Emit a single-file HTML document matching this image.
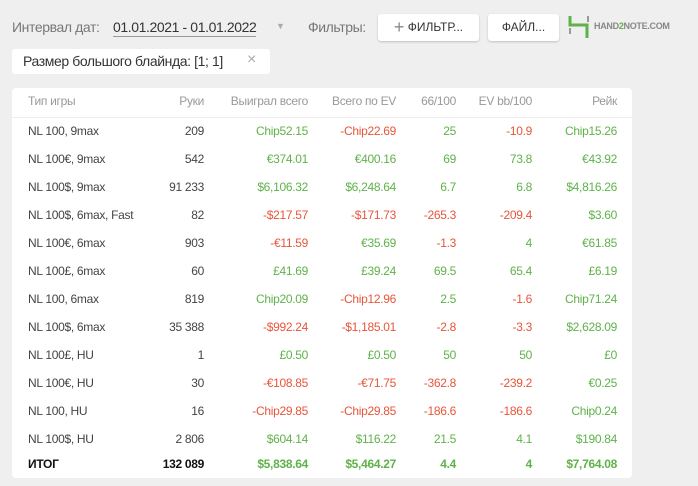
<!DOCTYPE html>
<html><head><meta charset="utf-8"><style>
body{margin:0;width:698px;height:486px;background:#efefef;font-family:"Liberation Sans",sans-serif;position:relative;overflow:hidden}
.a{position:absolute;white-space:nowrap}
.btn{position:absolute;background:#fff;border-radius:3px;box-shadow:0 1px 2px rgba(0,0,0,.2);font-size:12px;color:#333;text-align:center;line-height:27px}
.card{position:absolute;left:12px;top:88px;width:620px;height:390px;background:#fff;border-radius:4px}
.r{position:absolute;font-size:12px;letter-spacing:-0.3px;white-space:nowrap}
.g{color:#5fb24a}.d{color:#e8553a}.k{color:#444}.h{color:#999}
</style></head><body>
<div class="a" style="left:12px;top:19px;font-size:14px;color:#777;letter-spacing:-0.4px">Интервал дат:</div>
<div class="a" style="left:113px;top:19px;font-size:14px;color:#333;letter-spacing:-0.4px;border-bottom:1px solid #999;padding-bottom:1px">01.01.2021 - 01.01.2022</div>
<div class="a" style="left:276px;top:21px;font-size:9px;color:#aaa">▼</div>
<div class="a" style="left:308px;top:19px;font-size:14px;color:#777;letter-spacing:-0.4px">Фильтры:</div>
<div class="btn" style="left:378px;top:14px;width:101px;height:27px"><span style="color:#888;font-size:18px;vertical-align:-2px">+</span> ФИЛЬТР...</div>
<div class="btn" style="left:488px;top:14px;width:71px;height:27px">ФАЙЛ...</div>
<svg class="a" style="left:567px;top:14px" width="24" height="26"><path d="M3 2v9h17v13" stroke="#5fb24a" stroke-width="3" fill="none"/><path d="M3 14v6M21 2v6" stroke="#999" stroke-width="2"/></svg>
<div class="a" style="left:594px;top:21px;font-size:9px;font-weight:bold;color:#888;letter-spacing:-0.3px">HAND<span style="color:#5fb24a">2</span>NOTE.COM</div>
<div class="a" style="left:12px;top:49px;width:258px;height:25px;background:#fff;border-radius:3px"></div>
<div class="a" style="left:23px;top:53px;font-size:14px;color:#333;letter-spacing:-0.4px">Размер большого блайнда: [1; 1]</div>
<div class="a" style="left:247px;top:51px;font-size:16px;color:#aaa">×</div>
<div class="card"></div>
<div class="a" style="left:12px;top:117px;width:620px;height:1px;background:#eee"></div>
<div id="t"></div>
<script>
const rows=[["h","Тип игры","Руки","Выиграл всего","Всего по EV","66/100","EV bb/100","Рейк","hhhhhh"],
["","NL 100, 9max","209","Chip52.15","-Chip22.69","25","-10.9","Chip15.26","kgdgdg"],
["","NL 100€, 9max","542","€374.01","€400.16","69","73.8","€43.92","kggggg"],
["","NL 100$, 9max","91 233","$6,106.32","$6,248.64","6.7","6.8","$4,816.26","kggggg"],
["","NL 100$, 6max, Fast","82","-$217.57","-$171.73","-265.3","-209.4","$3.60","kddddg"],
["","NL 100€, 6max","903","-€11.59","€35.69","-1.3","4","€61.85","kdgdgg"],
["","NL 100£, 6max","60","£41.69","£39.24","69.5","65.4","£6.19","kggggg"],
["","NL 100, 6max","819","Chip20.09","-Chip12.96","2.5","-1.6","Chip71.24","kgdgdg"],
["","NL 100$, 6max","35 388","-$992.24","-$1,185.01","-2.8","-3.3","$2,628.09","kddddg"],
["","NL 100£, HU","1","£0.50","£0.50","50","50","£0","kggggg"],
["","NL 100€, HU","30","-€108.85","-€71.75","-362.8","-239.2","€0.25","kddddg"],
["","NL 100, HU","16","-Chip29.85","-Chip29.85","-186.6","-186.6","Chip0.24","kddddg"],
["","NL 100$, HU","2 806","$604.14","$116.22","21.5","4.1","$190.84","kggggg"],
["b","ИТОГ","132 089","$5,838.64","$5,464.27","4.4","4","$7,764.08","kggggg"]];
const ys=[94,124,152,180,208,236,264,292,320,348,376,404,432,457];
const R=[204,308,396,456,532,617];
let h="";
rows.forEach((r,i)=>{const y=ys[i];const b=r[0]=="b"?"font-weight:bold;":"";
const c0=r[0]=="h"?"h":(r[0]=="b"?"":"k");
h+=`<div class="r ${c0}" style="left:28px;top:${y}px;${b}${r[0]=="b"?"color:#111":""}">${r[1]}</div>`;
for(let j=0;j<6;j++){let cl=r[8][j];if(r[0]=="b"&&j==0)cl="";
h+=`<div class="r ${cl}" style="right:${698-R[j]}px;top:${y}px;${b}${r[0]=="b"&&j==0?"color:#111":""}">${r[j+2]}</div>`;}
});
document.getElementById("t").innerHTML=h;
</script>
</body></html>
